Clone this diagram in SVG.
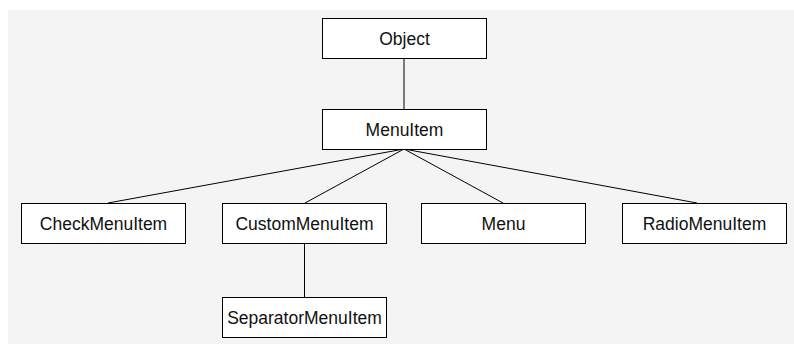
<svg xmlns="http://www.w3.org/2000/svg" width="794" height="344" viewBox="0 0 794 344">
<style>
.box{fill:#ffffff;stroke:#000000;stroke-width:1}
.lbl{font-family:"Liberation Sans",Arial,sans-serif;font-size:17.5px;fill:#111111;text-anchor:middle;dominant-baseline:central}
.conn line{stroke:#000000;stroke-width:1}
</style>
<rect x="0" y="0" width="794" height="344" fill="#ffffff"/>
<rect x="8" y="10" width="786" height="334" fill="#f4f4f4"/>
<g class="conn">
<line x1="404" y1="58" x2="404" y2="109"/>
<line x1="404" y1="149" x2="108" y2="203"/>
<line x1="404" y1="149" x2="305" y2="203"/>
<line x1="404" y1="149" x2="503" y2="203"/>
<line x1="404" y1="149" x2="697" y2="203"/>
<line x1="304.5" y1="244" x2="304.5" y2="297"/>
</g>
<g id="object"><rect class="box" x="322.5" y="18.5" width="164" height="40"/><text class="lbl" x="404.5" y="38.5">Object</text></g>
<g id="menuitem"><rect class="box" x="322.5" y="109.5" width="164" height="40"/><text class="lbl" x="404.5" y="129.5">MenuItem</text></g>
<g id="checkmenuitem"><rect class="box" x="21.5" y="203.5" width="164" height="40"/><text class="lbl" x="103.5" y="223.5">CheckMenuItem</text></g>
<g id="custommenuitem"><rect class="box" x="222.5" y="203.5" width="164" height="40"/><text class="lbl" x="304.5" y="223.5">CustomMenuItem</text></g>
<g id="menu"><rect class="box" x="421.5" y="203.5" width="164" height="40"/><text class="lbl" x="503.5" y="223.5">Menu</text></g>
<g id="radiomenuitem"><rect class="box" x="622.5" y="203.5" width="164" height="40"/><text class="lbl" x="704.5" y="223.5">RadioMenuItem</text></g>
<g id="separatormenuitem"><rect class="box" x="222.5" y="297.5" width="164" height="40"/><text class="lbl" x="304.5" y="317.5">SeparatorMenuItem</text></g>
</svg>
